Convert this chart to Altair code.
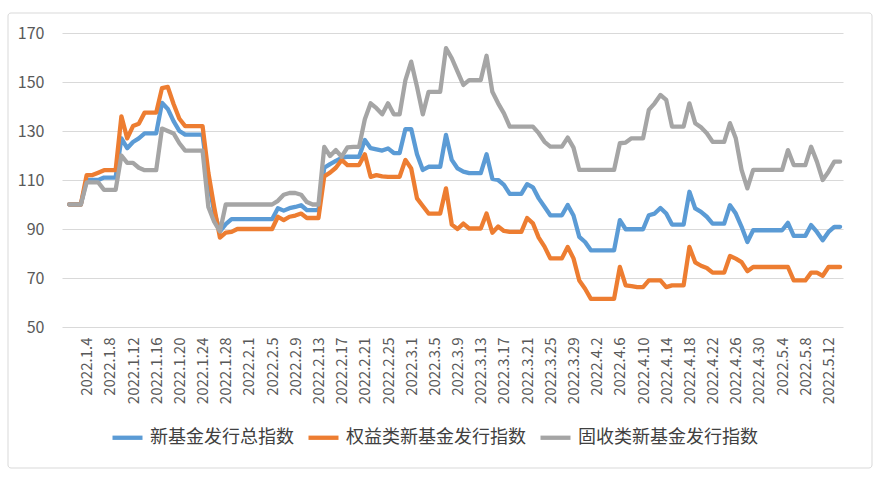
import altair as alt
import pandas as pd

# ---- data ----
start_date = "2022-01-01"          # first category (daily categories through 2022-05-14)
n_days = 134

series_names = ["新基金发行总指数", "权益类新基金发行指数", "固收类新基金发行指数"]
series_colors = ["#5B9BD5", "#ED7D31", "#A5A5A5"]

total_index = [
    100, 100, 100, 110, 110, 110, 111, 111, 111, 127,
    123, 125.5, 127, 129, 129, 129, 141.5, 139, 134, 130,
    128.5, 128.5, 128.5, 128.5, 110, 97, 89, 92, 94, 94,
    94, 94, 94, 94, 94, 94, 98.5, 97.5, 98.5, 99,
    99.7, 97.7, 97.7, 97.7, 115, 116.5, 117.8, 119, 119.5, 119.5,
    119.5, 126.3, 123, 122.5, 122, 122.9, 121, 121, 130.8, 130.8,
    120.5, 114.1, 115.4, 115.4, 115.4, 128.4, 118.2, 114.7, 113.4, 112.8,
    112.8, 112.8, 120.5, 110.5, 110, 108, 104.3, 104.3, 104.3, 108.3,
    107, 102.5, 99.1, 95.6, 95.6, 95.6, 99.8, 95.5, 86.8, 84.7,
    81.3, 81.3, 81.3, 81.3, 81.3, 93.6, 89.9, 89.9, 89.9, 89.9,
    95.6, 96.3, 98.6, 96.3, 91.8, 91.8, 91.8, 105.2, 98.4, 97,
    95, 92.2, 92.2, 92.2, 99.7, 96.3, 90.9, 84.7, 89.5, 89.5,
    89.5, 89.5, 89.5, 89.5, 92.5, 87.2, 87.2, 87.2, 91.6, 88.8,
    85.4, 88.8, 90.9, 90.9,
]

equity_index = [
    100, 100, 100, 112, 112, 113, 114, 114, 114, 136,
    127, 132, 133, 137.5, 137.5, 137.5, 147.5, 148, 141, 135,
    132, 132, 132, 132, 113, 99, 86.5, 88.5, 88.8, 90,
    90, 90, 90, 90, 90, 90, 95, 93.6, 95, 95.5,
    96.3, 94.5, 94.5, 94.5, 111.5, 113, 115, 118.2, 116.1, 116.1,
    116.1, 120.5, 111.3, 112, 111.5, 111.3, 111.3, 111.3, 118.2, 114.7,
    102.5, 99.4, 96.3, 96.3, 96.3, 106.6, 91.8, 90, 92.2, 90.2,
    90.2, 90.2, 96.3, 88.5, 91, 89.2, 88.8, 88.8, 88.8, 94.5,
    92.3, 86.5, 82.8, 78, 78, 78, 82.7, 78, 69, 65.6,
    61.5, 61.5, 61.5, 61.5, 61.5, 74.5, 67, 66.7, 66.3, 66.3,
    69, 69, 69, 66.3, 67, 67, 67, 82.7, 76.4, 75,
    74.1, 72.2, 72.2, 72.2, 79, 77.9, 76.5, 72.8, 74.5, 74.5,
    74.5, 74.5, 74.5, 74.5, 74.5, 69, 69, 69, 72.2, 72.2,
    70.9, 74.5, 74.5, 74.5,
]

fixed_income_index = [
    100, 100, 100, 109, 109, 109, 106, 106, 106, 120,
    117, 117, 115, 114, 114, 114, 131, 130, 129, 125,
    122, 122, 122, 122, 99, 93, 89, 100, 100, 100,
    100, 100, 100, 100, 100, 100, 101.5, 104, 104.7, 104.7,
    104, 101, 100, 100, 123.5, 119.8, 122.2, 119.5, 123.3, 123.5,
    123.5, 134.8, 141.3, 139.3, 136.8, 141.3, 136.8, 136.8, 150.8, 158.3,
    148.1, 136.8, 146, 146, 146, 163.8, 159.7, 154.2, 148.8, 150.8,
    150.8, 150.8, 160.7, 146, 141.3, 137.2, 131.8, 131.8, 131.8, 131.8,
    131.8, 129.1, 125.6, 123.6, 123.6, 123.6, 127.3, 123.2, 114.1, 114.1,
    114.1, 114.1, 114.1, 114.1, 114.1, 125, 125.3, 127, 127, 127,
    138.6, 141.3, 144.7, 142.7, 131.8, 131.8, 131.8, 141.3, 133.2, 131.5,
    129.1, 125.6, 125.6, 125.6, 133.2, 127, 114.1, 106.6, 114.1, 114.1,
    114.1, 114.1, 114.1, 114.1, 122.2, 116.1, 116.1, 116.1, 123.6, 117.5,
    110, 113.4, 117.5, 117.5,
]

x_tick_labels = [
    "2022.1.4", "2022.1.8", "2022.1.12", "2022.1.16", "2022.1.20", "2022.1.24",
    "2022.1.28", "2022.2.1", "2022.2.5", "2022.2.9", "2022.2.13", "2022.2.17",
    "2022.2.21", "2022.2.25", "2022.3.1", "2022.3.5", "2022.3.9", "2022.3.13",
    "2022.3.17", "2022.3.21", "2022.3.25", "2022.3.29", "2022.4.2", "2022.4.6",
    "2022.4.10", "2022.4.14", "2022.4.18", "2022.4.22", "2022.4.26", "2022.4.30",
    "2022.5.4", "2022.5.8", "2022.5.12",
]
y_ticks = [50, 70, 90, 110, 130, 150, 170]

# ---- build table ----
dates = pd.date_range(start_date, periods=n_days, freq="D").strftime("%Y-%m-%dT00:00:00")
rows = []
for name, vals in zip(series_names, [total_index, equity_index, fixed_income_index]):
    for d, v in zip(dates, vals):
        rows.append({"date": d, "value": v, "series": name})
df = pd.DataFrame(rows)

tick_dates = []
for lab in x_tick_labels:
    y, m, d = (int(p) for p in lab.split("."))
    tick_dates.append(alt.DateTime(year=y, month=m, date=d))

FONT = "Noto Sans CJK SC"

lines = alt.Chart(df).mark_line(
    strokeWidth=4.3, strokeJoin="round", strokeCap="round"
).encode(
    x=alt.X(
        "date:T",
        scale=alt.Scale(domain=[
            alt.DateTime(year=2021, month=12, date=30, hours=18),
            alt.DateTime(year=2022, month=5, date=14, hours=12),
        ]),
        axis=alt.Axis(
            title=None, values=tick_dates, grid=False, domain=False, ticks=False,
            labelAngle=270, labelPadding=10, labelFontSize=15, labelColor="#595959",
            labelFont=FONT, labelOverlap=False, labelFlush=False,
            labelExpr="'2022.' + (month(datum.value) + 1) + '.' + date(datum.value)",
        ),
    ),
    y=alt.Y(
        "value:Q",
        scale=alt.Scale(domain=[50, 170], nice=False, zero=False),
        axis=alt.Axis(
            title=None, values=y_ticks, grid=True, gridColor="#d9d9d9", gridWidth=1,
            domain=False, ticks=False, labelPadding=18, labelFontSize=16,
            labelColor="#595959", labelFont=FONT,
        ),
    ),
    color=alt.Color(
        "series:N",
        sort=series_names,
        scale=alt.Scale(domain=series_names, range=series_colors),
        legend=alt.Legend(
            title=None, orient="none", legendX=48, legendY=387, direction="horizontal",
            columns=3, symbolType="stroke", symbolSize=900, symbolStrokeWidth=4.3,
            labelFontSize=18, labelFont=FONT, labelColor="#404040", labelOffset=5,
            columnPadding=5, labelLimit=400, padding=0,
        ),
    ),
)

border = alt.Chart(alt.Data(values=[{"k": 1}])).mark_rect(
    filled=False, stroke="#d9d9d9", strokeWidth=1, cornerRadius=3, clip=False
).encode(
    x=alt.value(-54), x2=alt.value(810), y=alt.value(-20), y2=alt.value(435)
)

chart = alt.layer(border, lines).properties(
    width=781, height=294,
    padding={"left": 62, "top": 33, "right": 37, "bottom": 155},
    autosize=alt.AutoSizeParams(type="none"),
    background="white",
).configure_view(stroke=None)

chart.save("out.html", embed_options={"renderer": "svg", "actions": False})
